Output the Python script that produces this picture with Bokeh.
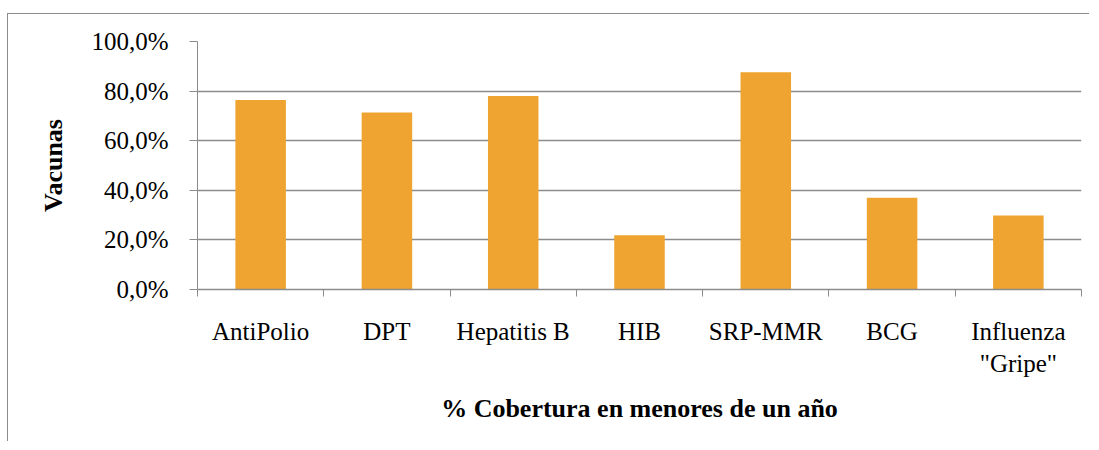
from bokeh.plotting import figure
from bokeh.models import Range1d, LinearAxis, FixedTicker, CustomJSTickFormatter
from bokeh.embed import file_html
from bokeh.resources import INLINE

categories = ["AntiPolio", "DPT", "Hepatitis B", "HIB", "SRP-MMR", "BCG", 'Influenza\n"Gripe"']
coverage = [76.4, 71.4, 78.0, 21.9, 87.6, 37.0, 29.8]
y_ticks = [0, 20, 40, 60, 80, 100]
y_tick_labels = ["0,0%", "20,0%", "40,0%", "60,0%", "80,0%", "100,0%"]
x_title = "% Cobertura en menores de un año"
y_title = "Vacunas"

BAR = "#EFA330"
GREY = "#8c8c8c"
FONT = "Liberation Serif"

n = len(categories)
centers = [i + 0.5 for i in range(n)]

p = figure(
    x_range=Range1d(0, n),
    y_range=Range1d(0, 100),
    width=1082, height=428,
    output_backend="svg", toolbar_location=None,
    x_axis_location=None,
    min_border_left=189, min_border_right=9,
    min_border_top=27, min_border_bottom=153,
    outline_line_color=None,
)
p.styles = {"margin-top": "13px", "margin-left": "7px",
            "border-top": "1px solid #8c8c8c",
            "border-left": "1px solid #8c8c8c"}

p.vbar(x=centers, top=coverage, width=0.4, fill_color=BAR, line_color=None)

# y axis
p.yaxis.ticker = FixedTicker(ticks=y_ticks)
p.yaxis.formatter = CustomJSTickFormatter(
    args=dict(vals=y_ticks, labs=y_tick_labels),
    code="const i = vals.indexOf(Math.round(tick)); return i >= 0 ? labs[i] : '';")
p.yaxis.major_tick_out = 8
p.yaxis.major_tick_in = 0
p.yaxis.minor_tick_line_color = None
p.yaxis.major_tick_line_color = GREY
p.yaxis.axis_line_color = GREY
p.yaxis.major_label_standoff = 21
p.yaxis.major_label_text_font = FONT
p.yaxis.major_label_text_font_size = "25px"
p.yaxis.major_label_text_color = "#000000"
p.yaxis.axis_label = y_title
p.yaxis.axis_label_text_font = FONT
p.yaxis.axis_label_text_font_style = "bold"
p.yaxis.axis_label_text_font_size = "26px"
p.yaxis.axis_label_text_color = "#000000"
p.yaxis.axis_label_standoff = 20

p.ygrid.grid_line_color = GREY
p.ygrid.grid_line_width = 1.5
p.xgrid.grid_line_color = None

# boundary ticks for categories (Excel style)
tick_axis = LinearAxis(
    ticker=FixedTicker(ticks=list(range(n + 1))),
    formatter=CustomJSTickFormatter(code="return '';"),
    major_tick_out=7, major_tick_in=0,
    minor_tick_line_color=None,
    major_tick_line_color=GREY, axis_line_color=GREY, axis_line_width=1.5,
    major_label_standoff=0,
)
p.add_layout(tick_axis, "below")

cat_axis = LinearAxis(
    ticker=FixedTicker(ticks=centers),
    formatter=CustomJSTickFormatter(args=dict(cats=categories),
                                    code="return cats[Math.floor(tick)];"),
    axis_line_color=None, major_tick_line_color=None, minor_tick_line_color=None,
    major_tick_out=0, major_tick_in=0,
    major_label_standoff=21,
    major_label_text_font=FONT, major_label_text_font_size="25px",
    major_label_text_color="#000000",
    axis_label=x_title, axis_label_text_font=FONT,
    axis_label_text_font_style="bold", axis_label_text_font_size="26px",
    axis_label_text_color="#000000", axis_label_standoff=14,
)
p.add_layout(cat_axis, "below")

open("out.html", "w").write(file_html(p, INLINE))
